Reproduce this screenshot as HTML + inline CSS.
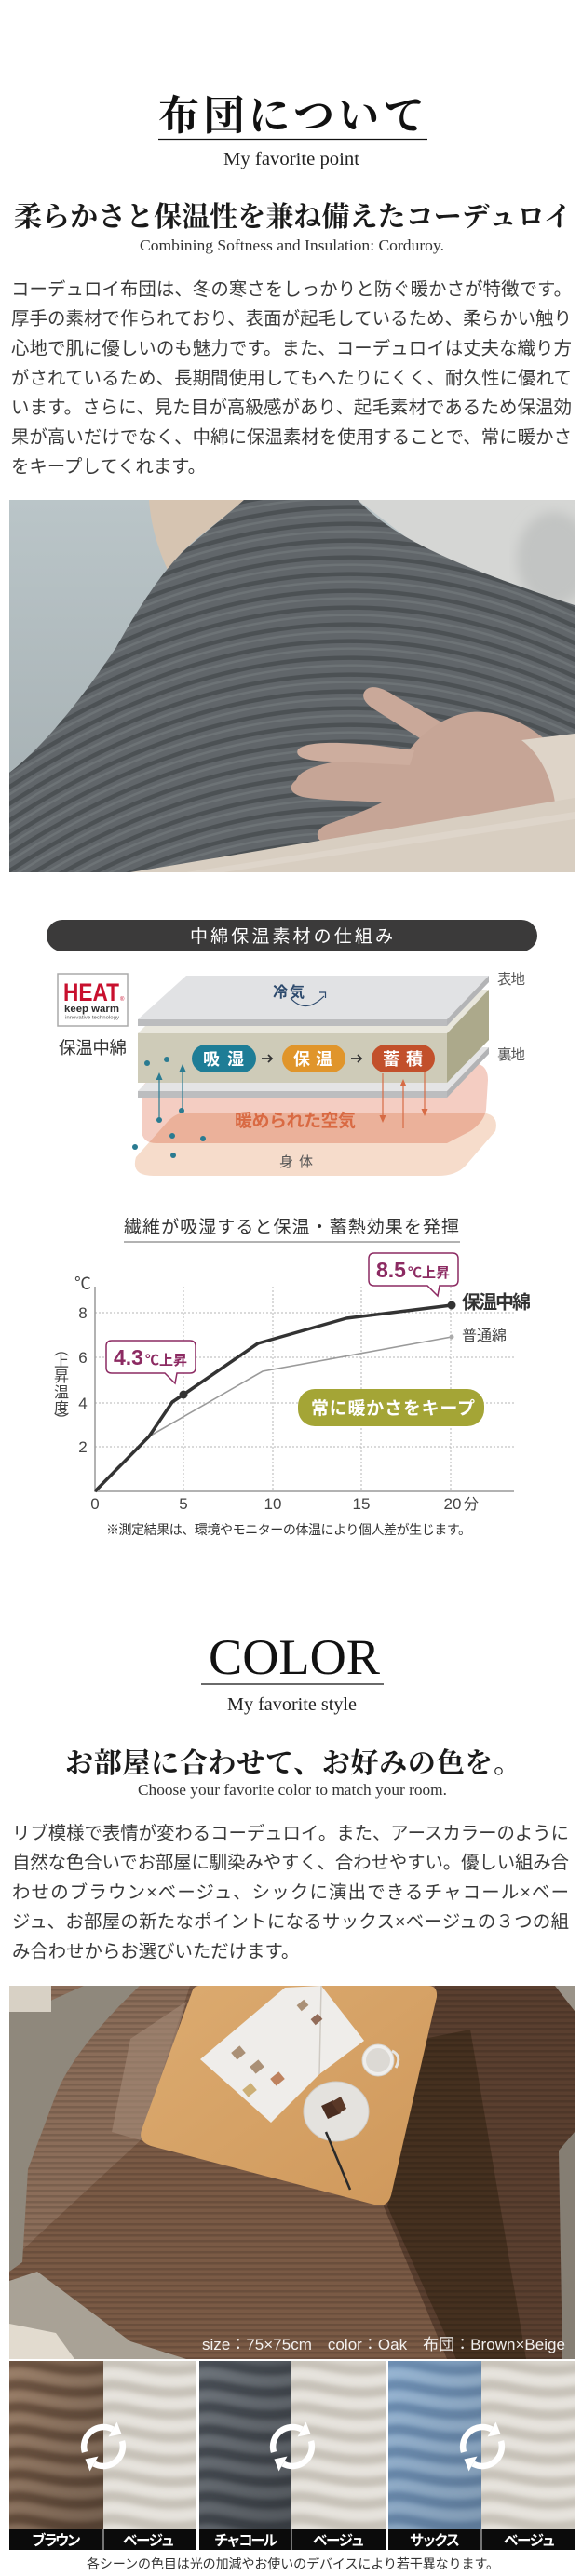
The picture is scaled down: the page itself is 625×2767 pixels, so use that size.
<!DOCTYPE html>
<html lang="ja"><head><meta charset="utf-8"><title>布団について</title>
<style>
html,body{margin:0;padding:0;background:#fff}
body{width:625px;height:2767px;overflow:hidden}
svg{display:block}
.s{font-family:"Liberation Sans","Noto Sans CJK JP",sans-serif}
.m{font-family:"Liberation Serif","Noto Serif CJK SC",serif}
.n{font-family:"Liberation Sans Narrow","Liberation Sans","Noto Sans CJK JP",sans-serif}
</style></head><body>
<svg xmlns="http://www.w3.org/2000/svg" xmlns:xlink="http://www.w3.org/1999/xlink" width="625" height="2767" viewBox="0 0 625 2767">
<defs>
  <clipPath id="c1"><rect x="10" y="537" width="607" height="400"/></clipPath>
  <clipPath id="cb"><path d="M262,537 L384,537 C420,575 480,605 617,650 L617,937 L10,937 L10,830 C50,800 95,740 125,695 C150,650 180,605 205,585 C225,568 245,552 262,537 Z"/></clipPath>
  <clipPath id="c2"><rect x="10" y="2133" width="607" height="401"/></clipPath>
  <clipPath id="h1"><rect x="10" y="2536" width="101" height="181"/></clipPath>
  <clipPath id="h2"><rect x="111" y="2536" width="100" height="181"/></clipPath>
  <clipPath id="h3"><rect x="214" y="2536" width="99" height="181"/></clipPath>
  <clipPath id="h4"><rect x="313" y="2536" width="101" height="181"/></clipPath>
  <clipPath id="h5"><rect x="417" y="2536" width="100" height="181"/></clipPath>
  <clipPath id="h6"><rect x="517" y="2536" width="100" height="181"/></clipPath>
  <linearGradient id="sofaG" x1="0" y1="0" x2="0" y2="1"><stop offset="0" stop-color="#bac5c8"/><stop offset="1" stop-color="#a3adb0"/></linearGradient>
  <linearGradient id="tblG" x1="0" y1="0" x2="1" y2="1"><stop offset="0" stop-color="#dcab70"/><stop offset="1" stop-color="#cf985b"/></linearGradient>
  <linearGradient id="shadeG" x1="0" y1="0" x2="1" y2="1"><stop offset="0" stop-color="#000" stop-opacity="0"/><stop offset="1" stop-color="#000" stop-opacity=".25"/></linearGradient>
  <filter id="bl" x="-10%" y="-10%" width="120%" height="120%"><feGaussianBlur stdDeviation="2.5"/></filter>
  <filter id="bl2"><feGaussianBlur stdDeviation="6"/></filter>
  <path id="stp" fill="none" d="M0,600Q330,380 640,540M0,618Q330,398 640,558M0,636Q330,416 640,576M0,654Q330,434 640,594M0,672Q330,452 640,612M0,690Q330,470 640,630M0,708Q330,488 640,648M0,726Q330,506 640,666M0,744Q330,524 640,684M0,762Q330,542 640,702M0,780Q330,560 640,720M0,798Q330,578 640,738M0,816Q330,596 640,756M0,834Q330,614 640,774M0,852Q330,632 640,792M0,870Q330,650 640,810M0,888Q330,668 640,828M0,906Q330,686 640,846M0,924Q330,704 640,864M0,942Q330,722 640,882M0,960Q330,740 640,900M0,978Q330,758 640,918M0,996Q330,776 640,936M0,1014Q330,794 640,954M0,1032Q330,812 640,972M0,1050Q330,830 640,990M0,1068Q330,848 640,1008M0,1086Q330,866 640,1026M0,1104Q330,884 640,1044M0,1122Q330,902 640,1062M0,1140Q330,920 640,1080M0,1158Q330,938 640,1098M0,1176Q330,956 640,1116"/>
  <path id="wv" fill="none" stroke-width="10" stroke-linecap="round" d="M-10,5 C20,-8 50,20 110,6 M-10,29 C20,16 50,44 110,30 M-10,53 C20,40 50,68 110,54 M-10,77 C20,64 50,92 110,78 M-10,101 C20,88 50,116 110,102 M-10,125 C20,112 50,140 110,126 M-10,149 C20,136 50,164 110,150 M-10,173 C20,160 50,188 110,174"/>
  <pattern id="hs" width="8" height="6" patternUnits="userSpaceOnUse"><rect width="8" height="2.5" fill="#000" opacity=".13"/></pattern>
  <g id="rot">
    <g fill="none" stroke="#fff" stroke-width="6.5">
      <path d="M-20,6 A21,21 0 0 1 10,-18.5"/>
      <path d="M20,-6 A21,21 0 0 1 -10,18.5"/>
    </g>
    <polygon fill="#fff" points="19.5,-13.5 14.5,-26.5 5.5,-10.5"/>
    <polygon fill="#fff" points="-19.5,13.5 -14.5,26.5 -5.5,10.5"/>
  </g>
</defs>

<!-- ===== Section 1 heading ===== -->
<text class="m" x="170" y="139" font-size="44" font-weight="bold" textLength="286" lengthAdjust="spacing" fill="#111">布団について</text>
<line x1="170" y1="149.5" x2="459" y2="149.5" stroke="#111" stroke-width="1.3"/>
<text class="m" x="240" y="177" font-size="20" textLength="146" lengthAdjust="spacingAndGlyphs" fill="#222">My favorite point</text>
<text class="m" x="15" y="243" font-size="30" font-weight="bold" textLength="599" lengthAdjust="spacing" fill="#1a1a1a">柔らかさと保温性を兼ね備えたコーデュロイ</text>
<text class="m" x="150" y="269" font-size="17" textLength="327" lengthAdjust="spacingAndGlyphs" fill="#333">Combining Softness and Insulation: Corduroy.</text>

<g class="s" font-size="19.4" fill="#3a3a3a">
<text x="12" y="316.9" textLength="602" lengthAdjust="spacing">コーデュロイ布団は、冬の寒さをしっかりと防ぐ暖かさが特徴です。</text>
<text x="12" y="348.7" textLength="602" lengthAdjust="spacing">厚手の素材で作られており、表面が起毛しているため、柔らかい触り</text>
<text x="12" y="380.5" textLength="602" lengthAdjust="spacing">心地で肌に優しいのも魅力です。また、コーデュロイは丈夫な織り方</text>
<text x="12" y="412.3" textLength="602" lengthAdjust="spacing">がされているため、長期間使用してもへたりにくく、耐久性に優れて</text>
<text x="12" y="444.2" textLength="602" lengthAdjust="spacing">います。さらに、見た目が高級感があり、起毛素材であるため保温効</text>
<text x="12" y="475.8" textLength="602" lengthAdjust="spacing">果が高いだけでなく、中綿に保温素材を使用することで、常に暖かさ</text>
<text x="12" y="507.5">をキープしてくれます。</text>
</g>

<!-- ===== Photo 1 ===== -->
<g clip-path="url(#c1)">
  <rect x="10" y="537" width="607" height="400" fill="url(#sofaG)"/>
  <path d="M384,537 L617,537 L617,650 C560,630 480,605 440,580 Z" fill="#d5d6d4"/>
  <ellipse cx="595" cy="600" rx="40" ry="50" fill="#c2c4c3" filter="url(#bl2)"/>
  <path d="M160,537 L262,537 C245,552 228,565 212,578 C198,590 188,600 180,612 C170,590 162,565 160,537 Z" fill="#d6c4b1"/>
  <path d="M262,537 L384,537 C420,575 480,605 617,650 L617,937 L10,937 L10,830 C50,800 95,740 125,695 C150,650 180,605 205,585 C225,568 245,552 262,537 Z" fill="#61666a"/>
  <g clip-path="url(#cb)">
    <use xlink:href="#stp" href="#stp" stroke="#464b4e" stroke-width="4.5" opacity=".75"/>
    <use xlink:href="#stp" href="#stp" y="8" stroke="#787d80" stroke-width="2.5" opacity=".55"/>
  </g>
  <path d="M392,742 C398,735 410,738 425,748 L478,778 L462,800 L402,762 C390,754 388,747 392,742 Z" fill="#c9a899"/>
  <path d="M318,838 C322,826 345,820 380,815 L440,805 C455,785 480,768 505,765 C540,762 570,780 592,800 L602,872 C570,884 520,886 480,888 C440,892 395,905 360,907 C340,908 334,894 350,886 C372,878 395,870 410,862 C385,860 345,860 325,856 C310,852 310,844 318,838 Z" fill="#c6a596"/>
  <path d="M320,805 C330,796 360,797 400,800 L445,806 L440,822 L360,818 C335,818 315,815 320,805 Z" fill="#cdad9e"/>
  <path d="M560,795 L617,788 L617,860 L596,862 C592,835 580,810 560,795 Z" fill="#ded4c8"/>
  <path d="M140,937 L617,857 L617,937 Z" fill="#d8cec1"/>
  <path d="M200,937 L617,872 L617,880 L240,937 Z" fill="#e3dbd0" opacity=".6"/>
</g>

<!-- ===== Diagram ===== -->
<rect x="50" y="988" width="527" height="34" rx="17" fill="#3b3a3a"/>
<text class="s" x="204" y="1012" font-size="19" textLength="218" lengthAdjust="spacing" fill="#fff">中綿保温素材の仕組み</text>

<rect x="62" y="1046" width="75" height="56" fill="#fff" stroke="#aaa" stroke-width="1.5"/>
<text class="s" x="68" y="1075" font-size="27" font-weight="bold" textLength="60" lengthAdjust="spacingAndGlyphs" fill="#c8102e">HEAT</text>
<text class="s" x="129" y="1075" font-size="6" fill="#c8102e">®</text>
<text class="s" x="69" y="1087" font-size="11" font-weight="bold" textLength="59" lengthAdjust="spacingAndGlyphs" fill="#2d2d2d">keep warm</text>
<text class="s" x="70" y="1094.5" font-size="5.5" textLength="58" lengthAdjust="spacingAndGlyphs" fill="#555">innovative technology</text>
<text class="s" x="63" y="1132" font-size="18.5" textLength="73" lengthAdjust="spacing" fill="#333">保温中綿</text>

<path d="M200,1195 L515,1195 Q537,1196 532,1215 L500,1252 Q490,1263 470,1263 L165,1263 Q140,1263 146,1243 L178,1207 Q188,1195 200,1195 Z" fill="#f6dccb"/>
<path d="M165,1160 L505,1142 Q524,1141 524,1160 L522,1192 Q520,1205 505,1215 L480,1228 L168,1228 Q152,1228 152,1213 L152,1175 Q152,1161 165,1160 Z" fill="#f4cdc2" style="mix-blend-mode:multiply"/>

<polygon points="148,1172 195,1125 525,1125 480,1172" fill="#e4e4e5"/>
<rect x="148" y="1172" width="332" height="7" fill="#bcbdbf"/>
<polygon points="480,1172 525,1125 525,1132 480,1179" fill="#b2b3b5"/>
<polygon points="148,1110 195,1063 525,1063 480,1110" fill="#e8e6dc"/>
<rect x="148" y="1110" width="332" height="53" fill="#cecbb8"/>
<polygon points="480,1110 525,1063 525,1117 480,1163" fill="#aca98b"/>
<polygon points="148,1095 200,1048 525,1048 480,1095" fill="#e1e2e4"/>
<rect x="148" y="1095" width="332" height="7" fill="#bbbcbe"/>
<polygon points="480,1095 525,1048 525,1055 480,1102" fill="#b3b4b6"/>

<text class="s" x="293" y="1071" font-size="16" font-weight="bold" textLength="34" lengthAdjust="spacing" fill="#2d4a6d">冷気</text>
<path d="M312,1072 Q328,1090 348,1070" fill="none" stroke="#2d4a6d" stroke-width="1.2"/>
<polyline points="343,1066 349.5,1066 349.5,1072" fill="none" stroke="#2d4a6d" stroke-width="1.2"/>
<text class="s" x="534" y="1057" font-size="15.5" textLength="30" lengthAdjust="spacing" fill="#555">表地</text>
<text class="s" x="534" y="1138" font-size="15.5" textLength="30" lengthAdjust="spacing" fill="#555">裏地</text>

<rect x="206" y="1122" width="69" height="30" rx="15" fill="#1e7d96"/>
<rect x="303" y="1122" width="68" height="30" rx="15" fill="#e0952b"/>
<rect x="399" y="1122" width="68" height="30" rx="15" fill="#c2502b"/>
<g class="s" font-size="18" font-weight="bold" fill="#fff">
<text x="218" y="1144" textLength="44" lengthAdjust="spacing">吸湿</text>
<text x="315" y="1144" textLength="42" lengthAdjust="spacing">保温</text>
<text x="411" y="1144" textLength="43" lengthAdjust="spacing">蓄積</text>
</g>
<path d="M281,1137 H292 M288,1133 L292,1137 L288,1141 M377,1137 H388 M384,1133 L388,1137 L384,1141" fill="none" stroke="#333" stroke-width="1.8"/>

<g fill="#2a7b91">
<circle cx="158" cy="1142" r="3"/><circle cx="179" cy="1138" r="3"/><circle cx="195" cy="1193" r="3"/><circle cx="171" cy="1203" r="3"/>
<circle cx="185" cy="1220" r="3"/><circle cx="218" cy="1223" r="3"/><circle cx="145" cy="1232" r="3"/><circle cx="186" cy="1241" r="3"/>
<polygon points="171,1152 167.5,1160 174.5,1160"/><polygon points="196,1143 192.5,1151 199.5,1151"/>
</g>
<path d="M171,1203 V1158 M196,1193 V1149" stroke="#2a7b91" stroke-width="1.2"/>
<g fill="#d66b45">
<polygon points="411,1206 407.5,1198 414.5,1198"/><polygon points="433,1159 429.5,1167 436.5,1167"/><polygon points="456,1199 452.5,1191 459.5,1191"/>
</g>
<path d="M411,1153 V1199 M433,1212 V1166 M456,1152 V1192" stroke="#d66b45" stroke-width="1.2"/>
<text class="s" x="252" y="1210" font-size="19" font-weight="bold" textLength="130" lengthAdjust="spacing" fill="#d96a43">暖められた空気</text>
<text class="s" x="300" y="1253" font-size="15" textLength="36" lengthAdjust="spacing" fill="#555">身体</text>

<!-- ===== Chart ===== -->
<text class="s" x="133" y="1324" font-size="19" textLength="360" lengthAdjust="spacing" fill="#333">繊維が吸湿すると保温・蓄熱効果を発揮</text>
<line x1="133" y1="1334" x2="494" y2="1334" stroke="#666" stroke-width="1"/>
<g stroke="#b5b5b5" stroke-width="1" stroke-dasharray="2,2">
<path d="M102,1410 H552 M102,1458 H552 M102,1507 H552 M102,1554 H552"/>
<path d="M197,1382 V1602 M293,1382 V1602 M388,1382 V1602 M484,1382 V1602"/>
</g>
<path d="M102,1382 V1602 H552" fill="none" stroke="#999" stroke-width="1.5"/>
<g class="n" font-size="17" fill="#444" text-anchor="middle">
<text x="89" y="1416">8</text><text x="89" y="1464">6</text><text x="89" y="1513">4</text><text x="89" y="1560">2</text>
<text x="102" y="1621">0</text><text x="197" y="1621">5</text><text x="293" y="1621">10</text><text x="388" y="1621">15</text><text x="486" y="1621">20</text>
</g>
<text class="s" x="498" y="1621" font-size="16" fill="#444">分</text>
<text class="s" x="89" y="1385" font-size="18" fill="#444" text-anchor="middle">℃</text>
<g class="s" font-size="16" fill="#444" text-anchor="middle">
<text x="66" y="1455">︵</text><text x="66" y="1468">上</text><text x="66" y="1484">昇</text><text x="66" y="1501">温</text><text x="66" y="1518">度</text><text x="66" y="1531">︶</text>
</g>
<polyline points="160,1543 282,1473 485,1436" fill="none" stroke="#9a9a9a" stroke-width="1.6"/>
<polyline points="102,1602 160,1543 185,1506 197,1498 277,1443 372,1416 485,1402" fill="none" stroke="#333" stroke-width="3.5" stroke-linejoin="round"/>
<circle cx="197" cy="1498" r="4.5" fill="#333"/>
<circle cx="485" cy="1402" r="4.5" fill="#333"/>
<circle cx="485" cy="1436" r="2.5" fill="#aaa"/>
<text class="s" x="496" y="1405.5" font-size="20" font-weight="bold" textLength="74" lengthAdjust="spacing" fill="#333">保温中綿</text>
<text class="s" x="496" y="1440" font-size="16" textLength="48" lengthAdjust="spacing" fill="#444">普通綿</text>

<path d="M120,1440 H204 Q210,1440 210,1446 V1469 Q210,1475 204,1475 H190 L188,1486 L177,1475 H120 Q114,1475 114,1469 V1446 Q114,1440 120,1440 Z" fill="#fff" stroke="#8c2a62" stroke-width="1.5"/>
<text class="s" x="122" y="1466" font-size="23" font-weight="bold" fill="#8c2a62">4.3<tspan font-size="15" x="156">℃上昇</tspan></text>
<path d="M402,1346 H486 Q492,1346 492,1352 V1375 Q492,1381 486,1381 H472 L470,1392 L459,1381 H402 Q396,1381 396,1375 V1352 Q396,1346 402,1346 Z" fill="#fff" stroke="#8c2a62" stroke-width="1.5"/>
<text class="s" x="404" y="1372" font-size="23" font-weight="bold" fill="#8c2a62">8.5<tspan font-size="15" x="438">℃上昇</tspan></text>

<rect x="320" y="1492" width="200" height="40" rx="18" fill="#a4a536"/>
<text class="s" x="334" y="1519" font-size="19" font-weight="bold" textLength="176" lengthAdjust="spacing" fill="#fff">常に暖かさをキープ</text>
<text class="s" x="114" y="1648" font-size="14" textLength="392" lengthAdjust="spacing" fill="#333">※測定結果は、環境やモニターの体温により個人差が生じます。</text>

<!-- ===== COLOR section ===== -->
<text class="m" x="224" y="1798" font-size="54" textLength="184" lengthAdjust="spacingAndGlyphs" fill="#111">COLOR</text>
<line x1="216" y1="1809" x2="412" y2="1809" stroke="#111" stroke-width="1.3"/>
<text class="m" x="244" y="1837" font-size="20" textLength="139" lengthAdjust="spacingAndGlyphs" fill="#222">My favorite style</text>
<text class="m" x="70" y="1904" font-size="30" font-weight="bold" textLength="490" lengthAdjust="spacing" fill="#1a1a1a">お部屋に合わせて、お好みの色を。</text>
<text class="m" x="148" y="1928" font-size="17" textLength="332" lengthAdjust="spacingAndGlyphs" fill="#333">Choose your favorite color to match your room.</text>
<g class="s" font-size="19.4" fill="#3a3a3a">
<text x="13" y="1975.4" textLength="598" lengthAdjust="spacing">リブ模様で表情が変わるコーデュロイ。また、アースカラーのように</text>
<text x="13" y="2007.2" textLength="598" lengthAdjust="spacing">自然な色合いでお部屋に馴染みやすく、合わせやすい。優しい組み合</text>
<text x="13" y="2038.9" textLength="598" lengthAdjust="spacing">わせのブラウン×ベージュ、シックに演出できるチャコール×ベー</text>
<text x="13" y="2070.7" textLength="598" lengthAdjust="spacing">ジュ、お部屋の新たなポイントになるサックス×ベージュの３つの組</text>
<text x="13" y="2102.4">み合わせからお選びいただけます。</text>
</g>

<!-- ===== Photo 2 ===== -->
<g clip-path="url(#c2)">
  <rect x="10" y="2133" width="607" height="401" fill="#775845"/>
  <polygon points="10,2133 204,2133 150,2300 10,2430" fill="#8b6d59"/>
  <polygon points="150,2300 412,2370 480,2534 10,2534 10,2430" fill="#7a5a45"/>
  <polygon points="467,2133 617,2133 617,2534 480,2534 412,2370" fill="#5a3f2f"/>
  <polygon points="455,2190 505,2180 565,2534 490,2534 416,2370" fill="#45301f"/>
  <rect x="10" y="2133" width="607" height="401" fill="url(#hs)"/>
  <path d="M140,2190 L200,2150 L155,2300 L120,2290 Z" fill="#a58a78" opacity=".6"/>
  <path d="M10,2150 L52,2150 L90,2133 L150,2133 Q80,2200 60,2250 L30,2330 L24,2430 L10,2440 Z" fill="#8f887c"/>
  <rect x="10" y="2133" width="45" height="28" fill="#d8d1c5"/>
  <polygon points="10,2450 40,2440 140,2515 200,2534 10,2534" fill="#a9a296"/>
  <polygon points="10,2496 60,2506 80,2534 10,2534" fill="#e2dbcf"/>
  <polygon points="600,2310 617,2290 617,2534 604,2534" fill="#857e73"/>
  <polygon points="596,2133 617,2133 617,2160" fill="#9a9388"/>
  <path d="M214,2133 L460,2133 Q470,2133 469,2145 L420,2358 Q416,2372 402,2368 L162,2305 Q148,2300 152,2288 L206,2140 Q208,2133 214,2133 Z" fill="url(#tblG)"/>
  <polygon points="215,2212 306,2135 345,2133 391,2192 343,2228 291,2280" fill="#efedea"/>
  <line x1="345" y1="2133" x2="343" y2="2228" stroke="#cfcac3" stroke-width="1.5"/>
  <g fill="#9a7a5a" opacity=".8">
    <rect x="250" y="2200" width="12" height="10" transform="rotate(-40 256 2205)"/>
    <rect x="270" y="2215" width="12" height="10" transform="rotate(-40 276 2220)"/>
    <rect x="292" y="2228" width="12" height="10" transform="rotate(-40 298 2233)" fill="#b3683c"/>
    <rect x="262" y="2240" width="12" height="10" transform="rotate(-40 268 2245)" fill="#c4a05a"/>
    <rect x="320" y="2150" width="10" height="8" transform="rotate(-40 325 2154)"/>
    <rect x="335" y="2165" width="10" height="8" transform="rotate(-40 340 2169)" fill="#7b4c35"/>
  </g>
  <circle cx="406" cy="2213" r="17" fill="#efeeec" stroke="#d6d3ce"/>
  <circle cx="406" cy="2213" r="13" fill="#dcd9d4"/>
  <path d="M421,2203 Q432,2208 425,2221" fill="none" stroke="#e6e4e0" stroke-width="3"/>
  <ellipse cx="361" cy="2268" rx="35" ry="32" fill="#e4e2de" stroke="#cfcbc5"/>
  <polygon points="345,2262 358,2256 366,2270 352,2276" fill="#4a2d20"/>
  <polygon points="356,2258 366,2252 372,2265 364,2270" fill="#5a3827"/>
  <line x1="350" y1="2290" x2="376" y2="2352" stroke="#2a2a2a" stroke-width="2.5"/>
  <text class="s" x="217" y="2524" font-size="17" textLength="390" lengthAdjust="spacing" fill="#fff" fill-opacity=".92">size：75×75cm　color：Oak　布団：Brown×Beige</text>
</g>

<!-- ===== Swatches ===== -->
<g clip-path="url(#h1)"><rect x="10" y="2536" width="101" height="181" fill="#8a6f5a"/>
<use xlink:href="#wv" href="#wv" x="10" y="2536" stroke="#5a4333" opacity=".6" filter="url(#bl)"/>
<use xlink:href="#wv" href="#wv" x="10" y="2548" stroke="#ab9079" opacity=".5" filter="url(#bl)"/>
<rect x="10" y="2536" width="101" height="181" fill="url(#shadeG)"/></g>
<g clip-path="url(#h2)"><rect x="111" y="2536" width="100" height="181" fill="#dad6ce"/>
<use xlink:href="#wv" href="#wv" x="111" y="2536" stroke="#bcb6ac" opacity=".6" filter="url(#bl)"/>
<use xlink:href="#wv" href="#wv" x="111" y="2548" stroke="#eeebe6" opacity=".6" filter="url(#bl)"/></g>
<g clip-path="url(#h3)"><rect x="214" y="2536" width="99" height="181" fill="#5f656c"/>
<use xlink:href="#wv" href="#wv" x="214" y="2536" stroke="#393e45" opacity=".6" filter="url(#bl)"/>
<use xlink:href="#wv" href="#wv" x="214" y="2548" stroke="#7c8289" opacity=".5" filter="url(#bl)"/>
<rect x="214" y="2536" width="99" height="181" fill="url(#shadeG)"/></g>
<g clip-path="url(#h4)"><rect x="313" y="2536" width="101" height="181" fill="#dad6ce"/>
<use xlink:href="#wv" href="#wv" x="313" y="2536" stroke="#bcb6ac" opacity=".6" filter="url(#bl)"/>
<use xlink:href="#wv" href="#wv" x="313" y="2548" stroke="#eeebe6" opacity=".6" filter="url(#bl)"/></g>
<g clip-path="url(#h5)"><rect x="417" y="2536" width="100" height="181" fill="#86a6c7"/>
<use xlink:href="#wv" href="#wv" x="417" y="2536" stroke="#5b7da2" opacity=".6" filter="url(#bl)"/>
<use xlink:href="#wv" href="#wv" x="417" y="2548" stroke="#a8c3dd" opacity=".5" filter="url(#bl)"/>
<rect x="417" y="2536" width="100" height="181" fill="url(#shadeG)" opacity=".6"/></g>
<g clip-path="url(#h6)"><rect x="517" y="2536" width="100" height="181" fill="#dad6ce"/>
<use xlink:href="#wv" href="#wv" x="517" y="2536" stroke="#bcb6ac" opacity=".6" filter="url(#bl)"/>
<use xlink:href="#wv" href="#wv" x="517" y="2548" stroke="#eeebe6" opacity=".6" filter="url(#bl)"/></g>

<use xlink:href="#rot" href="#rot" transform="translate(111,2628)"/>
<use xlink:href="#rot" href="#rot" transform="translate(314,2628)"/>
<use xlink:href="#rot" href="#rot" transform="translate(518,2628)"/>

<rect x="10" y="2717" width="201" height="22" fill="#0b0b0b"/>
<rect x="214" y="2717" width="200" height="22" fill="#0b0b0b"/>
<rect x="417" y="2717" width="200" height="22" fill="#0b0b0b"/>
<path d="M111,2717 V2739 M313,2717 V2739 M517,2717 V2739" stroke="#ddd" stroke-width="1"/>
<g class="s" font-size="15.5" font-weight="bold" fill="#fff">
<text x="34" y="2734" textLength="53" lengthAdjust="spacing">ブラウン</text>
<text x="132" y="2734" textLength="56" lengthAdjust="spacing">ベージュ</text>
<text x="230" y="2734" textLength="68" lengthAdjust="spacing">チャコール</text>
<text x="336" y="2734" textLength="56" lengthAdjust="spacing">ベージュ</text>
<text x="440" y="2734" textLength="54" lengthAdjust="spacing">サックス</text>
<text x="541" y="2734" textLength="56" lengthAdjust="spacing">ベージュ</text>
</g>
<text class="s" x="93" y="2759" font-size="14" textLength="443" lengthAdjust="spacing" fill="#333">各シーンの色目は光の加減やお使いのデバイスにより若干異なります。</text>
</svg>
</body></html>
